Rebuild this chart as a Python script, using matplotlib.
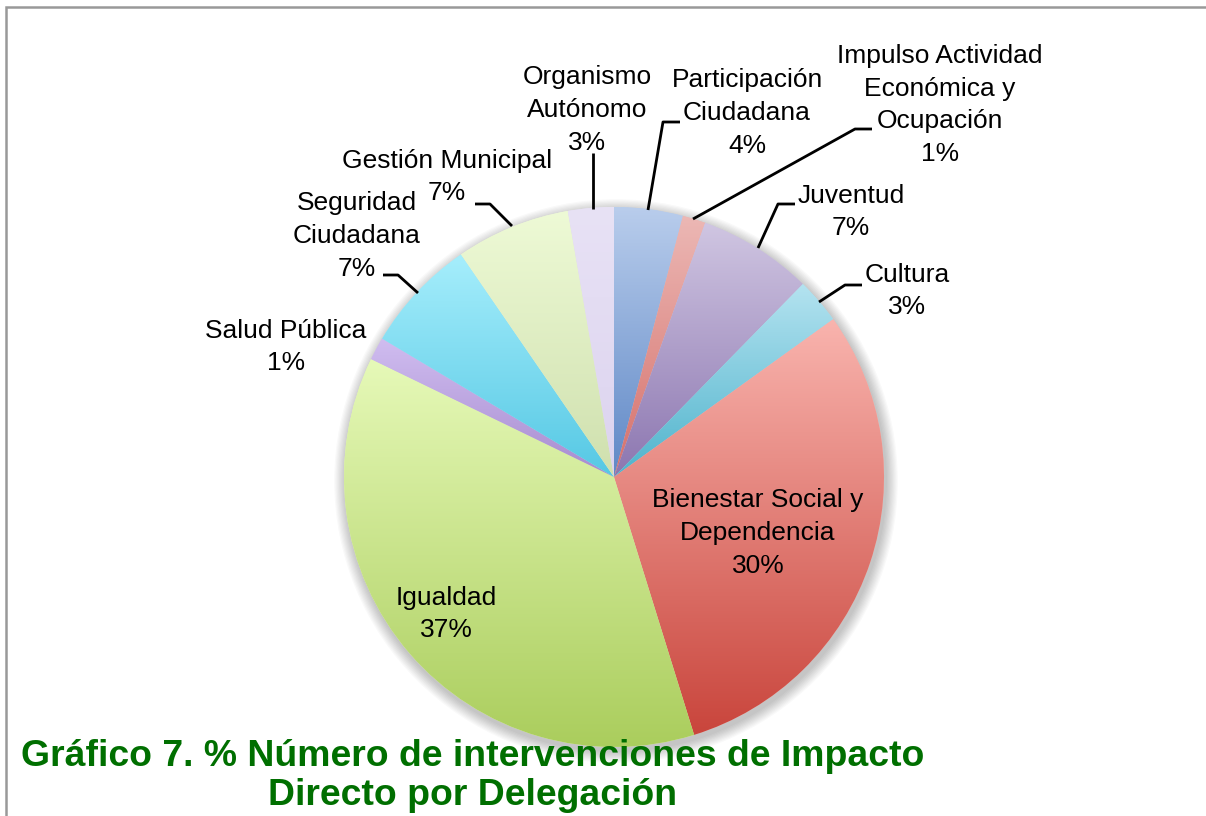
import numpy as np
import matplotlib
matplotlib.use("Agg")
import matplotlib.pyplot as plt
from matplotlib.colors import to_rgb
from matplotlib.patches import Circle

plt.rcParams['font.family'] = ['Liberation Sans', 'DejaVu Sans']

# data (clockwise from 12 o'clock), counts
labels = ["Participación\nCiudadana", "Impulso Actividad\nEconómica y\nOcupación",
          "Juventud", "Cultura", "Bienestar Social y\nDependencia", "Igualdad",
          "Salud Pública", "Seguridad\nCiudadana", "Gestión Municipal",
          "Organismo\nAutónomo"]
values = [3, 1, 5, 2, 22, 27, 1, 5, 5, 2]
pct_labels = ["4%", "1%", "7%", "3%", "30%", "37%", "1%", "7%", "7%", "3%"]

# gradient colours, top -> bottom
tops = ['#b9cdec', '#ecb8b5', '#d0c6e2', '#b4e3f0', '#f9b4ae',
        '#e6f9b8', '#d0bdf0', '#a6eefc', '#eefad6', '#e8e2f5']
bottoms = ['#5f88c6', '#d5706b', '#8c76b0', '#4fb3cc', '#c9453c',
           '#aacd5c', '#a78ccf', '#55c8e4', '#cfe0ae', '#dcd3ef']

W, H = 1206, 816
fig = plt.figure(figsize=(W / 100, H / 100), dpi=100)
ax = fig.add_axes([0, 0, 1, 1])

cx, cy, R = 614, 477, 270

# soft shadow
for i in range(10):
    ax.add_patch(Circle((cx + 2, cy + 4), R + 1 + i * 1.2, color='#000000',
                        alpha=0.025, lw=0, zorder=0))

wedges, _ = ax.pie(values, startangle=-90, counterclock=True, center=(cx, cy),
                   radius=R, colors=tops, wedgeprops=dict(linewidth=0))
for w, c0, c1 in zip(wedges, tops, bottoms):
    v = w.get_path().vertices
    x0, x1 = v[:, 0].min(), v[:, 0].max()
    y0, y1 = v[:, 1].min(), v[:, 1].max()
    t = np.linspace(0, 1, 256)[:, None, None]
    grad = (1 - t) * np.array(to_rgb(c0)) + t * np.array(to_rgb(c1))
    im = ax.imshow(grad, extent=(x0, x1, y1, y0), origin='upper',
                   aspect='auto', zorder=2, interpolation='bilinear')
    im.set_clip_path(w)

ax.set_xlim(0, W)
ax.set_ylim(H, 0)
ax.axis('off')

# label positions (pixel coords of text block centres)
label_pos = [(747, 113), (940, 105), (851, 212), (907, 291), (758, 533),
             (446, 614), (286, 347), (357, 236), (447, 177), (587, 110)]
for lab, p, (x, y) in zip(labels, pct_labels, label_pos):
    ax.text(x, y, lab + "\n" + p, ha='center', va='center', fontsize=19,
            linespacing=1.45, color='black', zorder=5)

# leader lines
leaders = [
    [(680, 122), (663, 122), (648, 210)],
    [(872, 129), (855, 129), (693, 219)],
    [(795, 204), (778, 204), (758, 248)],
    [(862, 285), (845, 285), (819, 302)],
    [(383, 275), (398, 275), (418, 293)],
    [(475, 204), (490, 204), (512, 226)],
    [(593, 153), (593, 209)],
]
for pts in leaders:
    xs, ys = zip(*pts)
    ax.plot(xs, ys, color='black', lw=2.0, zorder=4, solid_capstyle='butt')

# title
ax.text(473, 776, "Gráfico 7. % Número de intervenciones de Impacto\nDirecto por Delegación",
        ha='center', va='center', fontsize=26.9, fontweight='bold', color='#006f00',
        linespacing=1.13, zorder=6)

# frame
ax.plot([6, 6, W], [H, 7, 7], color='#999999', lw=1.8, zorder=7,
        solid_joinstyle='miter')

fig.savefig("out.png", dpi=100)
